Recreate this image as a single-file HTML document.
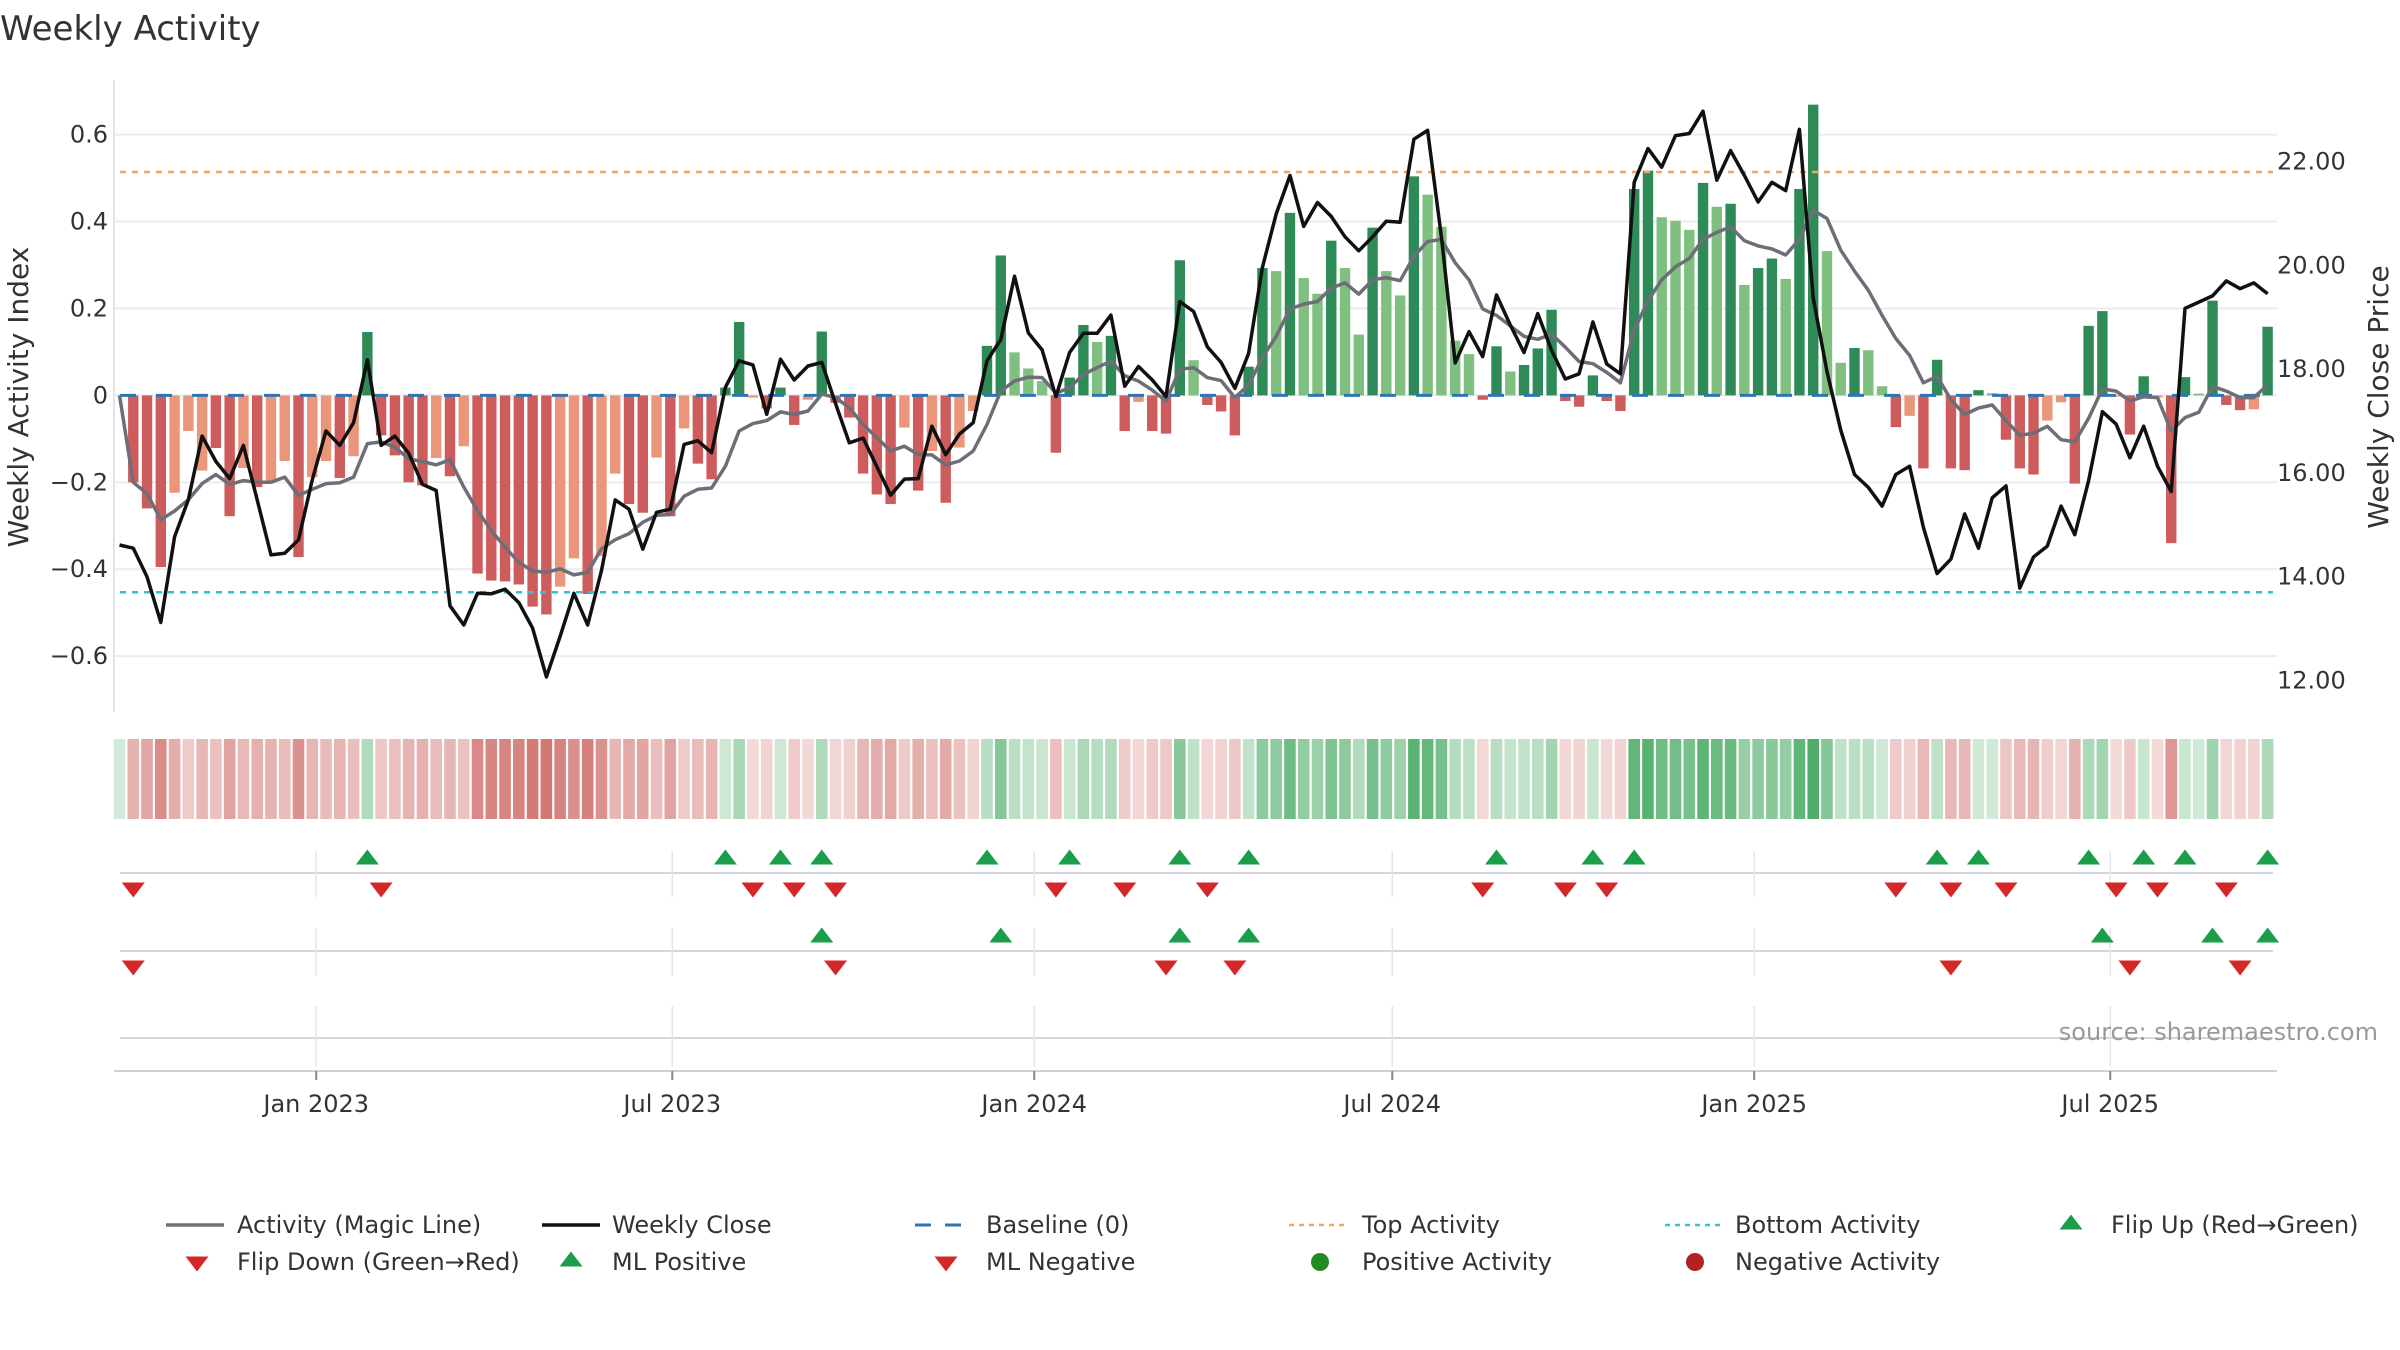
<!DOCTYPE html>
<html><head><meta charset="utf-8"><title>Weekly Activity</title>
<style>
html,body{margin:0;padding:0;background:#fff;}
svg{display:block;font-family:"DejaVu Sans","Liberation Sans",sans-serif;}
</style></head>
<body>
<svg id="chart" width="2400" height="1350" viewBox="0 0 2400 1350" xmlns="http://www.w3.org/2000/svg">
<rect width="2400" height="1350" fill="#fff"/>
<text x="0" y="40" font-size="34" fill="#333">Weekly Activity</text>
<g id="grid"></g>
<g id="main"></g>
<g id="strip"></g>
<g id="markers"></g>
<g id="xaxis"></g>
<text x="28" y="397" font-size="28" fill="#333" text-anchor="middle" transform="rotate(-90 28 397)">Weekly Activity Index</text>
<text x="2388" y="397" font-size="28" fill="#333" text-anchor="middle" transform="rotate(-90 2388 397)">Weekly Close Price</text>
<text x="2378" y="1040" font-size="24" fill="#999" text-anchor="end">source: sharemaestro.com</text>
<g id="legend"></g>
</svg>
<script>
const activity = [0,-0.20,-0.26,-0.395,-0.224,-0.082,-0.173,-0.121,-0.278,-0.167,-0.211,
-0.20,-0.151,-0.372,-0.188,-0.151,-0.19,-0.14,0.146,-0.092,-0.138,
-0.20,-0.207,-0.144,-0.186,-0.117,-0.41,-0.426,-0.428,-0.435,-0.486,
-0.504,-0.44,-0.375,-0.457,-0.37,-0.18,-0.25,-0.27,-0.143,-0.278,
-0.076,-0.157,-0.193,0.018,0.169,-0.005,-0.03,0.018,-0.068,-0.01,
0.147,-0.017,-0.051,-0.18,-0.228,-0.25,-0.074,-0.219,-0.128,-0.247,
-0.12,-0.036,0.114,0.322,0.099,0.062,0.033,-0.132,0.041,0.162,
0.123,0.137,-0.082,-0.015,-0.082,-0.088,0.311,0.081,-0.022,-0.037,
-0.092,0.066,0.293,0.286,0.42,0.27,0.234,0.356,0.293,0.14,
0.386,0.286,0.23,0.504,0.462,0.388,0.126,0.095,-0.01,0.113,
0.055,0.07,0.108,0.197,-0.013,-0.026,0.046,-0.013,-0.036,0.475,
0.517,0.41,0.402,0.381,0.489,0.434,0.441,0.254,0.293,0.315,
0.268,0.475,0.669,0.332,0.075,0.109,0.104,0.021,-0.073,-0.047,
-0.168,0.082,-0.168,-0.172,0.012,0.005,-0.102,-0.168,-0.182,-0.058,
-0.016,-0.203,0.16,0.194,-0.003,-0.09,0.044,-0.005,-0.34,0.042,
0.004,0.218,-0.022,-0.034,-0.032,0.158];
const shade = ("L"+"DDDLLLDDLD"+"LLDLLDLDDD"+"DDLDLDDDDD"+"DLLDLLDDLD"+"LDDDDLDDDL"+"DDDDDDLDLD"+"LLDDLLLDDD"+"LDDLDDDLDD"+"DDDLDLLDLL"+"DLLDLLLLDD"+"LDDDDDDDDD"+"DLLLDLDLDD"+"LDDLLDLLDL"+"DDDDDLDDDL"+"LDDDLDDLDD"+"LDDDLD").split("");
const magicLine = [0,-0.20,-0.226,-0.286,-0.266,-0.24,-0.203,-0.182,-0.205,-0.196,-0.20,-0.20,-0.188,-0.23,-0.216,-0.203,-0.201,-0.188,-0.111,-0.107,-0.119,-0.146,-0.152,-0.16,-0.148,-0.211,-0.265,-0.311,-0.349,-0.384,-0.404,-0.407,-0.399,-0.413,-0.407,-0.353,-0.332,-0.318,-0.292,-0.276,-0.274,
-0.232,-0.216,-0.213,-0.163,-0.082,-0.065,-0.058,-0.038,-0.044,-0.036,0.003,-0.005,-0.028,-0.067,-0.097,-0.128,-0.117,-0.136,-0.137,-0.16,-0.151,-0.128,-0.067,0.01,0.033,0.042,0.041,0.005,0.018,0.048,0.064,0.079,0.045,0.033,0.012,-0.013,0.06,0.064,0.041,
0.034,-0.005,0.024,0.087,0.136,0.199,0.21,0.216,0.247,0.259,0.233,0.266,0.271,0.264,0.32,0.354,0.359,0.305,0.266,0.199,0.184,0.16,0.136,0.129,0.141,0.111,0.078,0.073,0.053,0.029,0.15,0.218,
0.266,0.296,0.315,0.359,0.375,0.388,0.356,0.344,0.337,0.323,0.359,0.426,0.407,0.334,0.286,0.242,0.184,0.131,0.092,0.029,0.044,-0.01,-0.044,-0.029,-0.022,-0.058,-0.092,-0.087,-0.071,-0.102,-0.107,-0.053,0.015,0.01,-0.013,-0.003,-0.005,-0.082,-0.051,-0.039,0.021,0.01,-0.005,-0.005,0.024];
const weeklyClose = [14.61,14.55,14.00,13.12,14.77,15.48,16.71,16.22,15.89,16.53,15.48,14.42,14.45,14.71,15.87,16.81,16.53,16.97,18.18,16.53,16.71,16.38,15.78,15.66,13.44,13.07,13.68,13.67,13.76,13.50,13.01,12.07,12.85,13.68,13.07,14.12,15.48,15.30,14.53,15.24,15.30,
16.55,16.62,16.39,17.65,18.16,18.08,17.13,18.19,17.79,18.06,18.13,17.34,16.58,16.67,16.12,15.57,15.88,15.89,16.90,16.35,16.75,16.97,18.16,18.57,19.79,18.70,18.37,17.47,18.32,18.69,18.69,19.04,17.67,18.05,17.79,17.47,19.30,19.11,18.43,
18.13,17.63,18.3,19.96,20.99,21.73,20.75,21.21,20.94,20.55,20.28,20.55,20.85,20.83,22.43,22.60,20.55,18.12,18.72,18.24,19.43,18.85,18.32,19.07,18.36,17.81,17.91,18.91,18.10,17.91,21.60,22.25,
21.89,22.50,22.54,22.97,21.64,22.21,21.73,21.22,21.60,21.44,22.62,19.37,17.95,16.82,15.97,15.72,15.36,15.97,16.13,14.95,14.06,14.34,15.21,14.55,15.52,15.75,13.78,14.38,14.59,15.36,14.81,15.85,17.18,16.94,16.29,16.90,16.13,15.64,19.17,19.29,19.41,19.70,19.55,19.66,19.45];
const leftTicks = [-0.6,-0.4,-0.2,0,0.2,0.4,0.6];
const leftTickLabels = ["\u22120.6","\u22120.4","\u22120.2","0","0.2","0.4","0.6"];
const rightTicks = [12,14,16,18,20,22];
const rightTickLabels = ["12.00","14.00","16.00","18.00","20.00","22.00"];
const xTickDates = ["2023-01-01","2023-07-01","2024-01-01","2024-07-01","2025-01-01","2025-07-01"];
const xTickLabels = ["Jan 2023","Jul 2023","Jan 2024","Jul 2024","Jan 2025","Jul 2025"];
const startDate = "2022-09-23";
const topActivity = 0.514;
const bottomActivity = -0.453;

const NS="http://www.w3.org/2000/svg";
function mk(tag, attrs, parent){const e=document.createElementNS(NS,tag);for(const k in attrs)e.setAttribute(k,attrs[k]);parent.appendChild(e);return e;}
const X0=119.5, STEP=13.77, PL=114, PR=2277;
const xi = i => X0 + i*STEP;
const d0 = Date.parse(startDate+"T00:00:00Z");
const xd = s => X0 + (Date.parse(s+"T00:00:00Z")-d0)/(7*86400000)*STEP;
const yA = v => 395.4 - v*434.6;
const yP = p => 161.5 + (22-p)*51.9;

const grid=document.getElementById('grid'), main=document.getElementById('main');
// gridlines & left ticks
leftTicks.forEach((t,k)=>{
  const g=mk('line',{x1:PL,x2:PR,y1:yA(t),y2:yA(t),stroke:'#ebebf0','stroke-width':2},grid);
  
  
  const tx=mk('text',{x:108,y:yA(t)+8,'font-size':24,fill:'#333','text-anchor':'end'},grid);
  tx.textContent=leftTickLabels[k];
  
  
});
rightTicks.forEach((t,k)=>{
  const tx=mk('text',{x:2277,y:yP(t)+8,'font-size':24,fill:'#333'},grid);
  tx.textContent=rightTickLabels[k];
  
  
});
const sp=mk('line',{x1:PL,x2:PL,y1:80,y2:712,stroke:'#e3e3e8','stroke-width':2},grid);



// bars
const COL={DG:'#2e8b57',LG:'#7fbf7f',DR:'#cd5c5c',LR:'#e9967a'};
activity.forEach((v,i)=>{
  if(v===0) return;
  const pos=v>0, key=(shade[i]==='D'?'D':'L')+(pos?'G':'R');
  const y0=yA(0), y1=yA(v);
  const r=mk('rect',{x:xi(i)-5.2,y:Math.min(y0,y1),width:10.4,height:Math.abs(y1-y0),fill:COL[key]},main);
  
  
});
// reference lines
let l=mk('line',{x1:PL+6,x2:PR-4,y1:yA(topActivity),y2:yA(topActivity),stroke:'#f4a460','stroke-width':2.5,'stroke-dasharray':'6 6'},main);


l=mk('line',{x1:PL+6,x2:PR-4,y1:yA(bottomActivity),y2:yA(bottomActivity),stroke:'#2ec4d6','stroke-width':2.5,'stroke-dasharray':'6 6'},main);


l=mk('line',{x1:PL+6,x2:PR-4,y1:yA(0),y2:yA(0),stroke:'#2f75b5','stroke-width':3,'stroke-dasharray':'16 20'},main);


// lines
let pts=magicLine.map((v,i)=>xi(i).toFixed(1)+','+yA(v).toFixed(1)).join(' ');
l=mk('polyline',{points:pts,fill:'none',stroke:'#6e6e78','stroke-width':3.5,'stroke-linejoin':'round'},main);


pts=weeklyClose.map((v,i)=>xi(i).toFixed(1)+','+yP(v).toFixed(1)).join(' ');
l=mk('polyline',{points:pts,fill:'none',stroke:'#111','stroke-width':3.5,'stroke-linejoin':'round'},main);



// heat strip
const strip=document.getElementById('strip');
function mix(c,t){return 'rgb('+c.map(x=>Math.round(255-(255-x)*t)).join(',')+')';}
activity.forEach((v,i)=>{
  const t=Math.min(0.85,0.22+Math.abs(v)*1.15);
  const c=v>=0?mix([50,160,80],t):mix([200,85,80],t);
  const r=mk('rect',{x:xi(i)-5.8,y:739,width:11.6,height:80,fill:c},strip);
  
  
});

// marker rows
const mkr=document.getElementById('markers');
[[873,851,897],[951,928,976],[1038,1006,1067]].forEach(r=>{
  const g=mk('line',{x1:PL+6,x2:PR-4,y1:r[0],y2:r[0],stroke:'#d6d6da','stroke-width':2},mkr);
  
  
  xTickDates.forEach(d=>{
    const v=mk('line',{x1:xd(d),x2:xd(d),y1:r[1],y2:r[2],stroke:'#e6e6ee','stroke-width':1.5},mkr);
    
    
  });
});
function tri(x,y,up,color,name,parent){
  const h=15,w=11.5;
  const p=up?`${x-w},${y+h/2} ${x+w},${y+h/2} ${x},${y-h/2}`:`${x-w},${y-h/2} ${x+w},${y-h/2} ${x},${y+h/2}`;
  const e=mk('polygon',{points:p,fill:color},parent);
  
  
}
for(let i=1;i<activity.length;i++){
  const a=activity[i-1]>=0,b=activity[i]>=0;
  if(!a&&b) tri(xi(i),857,true,'#1a9e4a','flip-up-marker',mkr);
  if(a&&!b) tri(xi(i),890,false,'#d62728','flip-down-marker',mkr);
  const c=magicLine[i-1]>=0,d=magicLine[i]>=0;
  if(!c&&d) tri(xi(i),935,true,'#1a9e4a','ml-positive-marker',mkr);
  if(c&&!d) tri(xi(i),968,false,'#d62728','ml-negative-marker',mkr);
}

// x axis
const xa=document.getElementById('xaxis');
l=mk('line',{x1:PL,x2:PR,y1:1071,y2:1071,stroke:'#d0d0d4','stroke-width':2},xa);


xTickDates.forEach((d,k)=>{
  const t=mk('line',{x1:xd(d),x2:xd(d),y1:1071,y2:1080,stroke:'#888','stroke-width':2},xa);
  
  
  const tx=mk('text',{x:xd(d),y:1112,'font-size':24,fill:'#333','text-anchor':'middle'},xa);
  tx.textContent=xTickLabels[k];
  
  
});

// legend
const lg=document.getElementById('legend');
function ltext(x,y,s){const t=mk('text',{x:x,y:y+8,'font-size':24,fill:'#333'},lg);t.textContent=s;}
function lline(x,y,attrs,name){const e=mk('line',Object.assign({x1:x,x2:x+58,y1:y,y2:y},attrs),lg);}
const R1=1225,R2=1262;
lline(166,R1,{stroke:'#6e6e78','stroke-width':3.5},'legend-magic-line'); ltext(237,R1,'Activity (Magic Line)');
lline(542,R1,{stroke:'#111','stroke-width':3.5},'legend-weekly-close'); ltext(612,R1,'Weekly Close');
lline(915,R1,{stroke:'#2f75b5','stroke-width':3,'stroke-dasharray':'16 14'},'legend-baseline'); ltext(986,R1,'Baseline (0)');
lline(1289,R1,{stroke:'#f4a460','stroke-width':2.5,'stroke-dasharray':'5 5'},'legend-top-activity'); ltext(1362,R1,'Top Activity');
lline(1665,R1,{stroke:'#2ec4d6','stroke-width':2.5,'stroke-dasharray':'5 5'},'legend-bottom-activity'); ltext(1735,R1,'Bottom Activity');
tri(2071,R1-3,true,'#1a9e4a','legend-flip-up',lg); ltext(2111,R1,'Flip Up (Red\u2192Green)');
tri(197,R2+2,false,'#d62728','legend-flip-down',lg); ltext(237,R2,'Flip Down (Green\u2192Red)');
tri(571,R2-3,true,'#1a9e4a','legend-ml-positive',lg); ltext(612,R2,'ML Positive');
tri(946,R2+2,false,'#d62728','legend-ml-negative',lg); ltext(986,R2,'ML Negative');
let c=mk('circle',{cx:1320,cy:R2,r:9,fill:'#228b22'},lg);


ltext(1362,R2,'Positive Activity');
c=mk('circle',{cx:1695,cy:R2,r:9,fill:'#b22222'},lg);


ltext(1735,R2,'Negative Activity');
</script>
</body></html>
